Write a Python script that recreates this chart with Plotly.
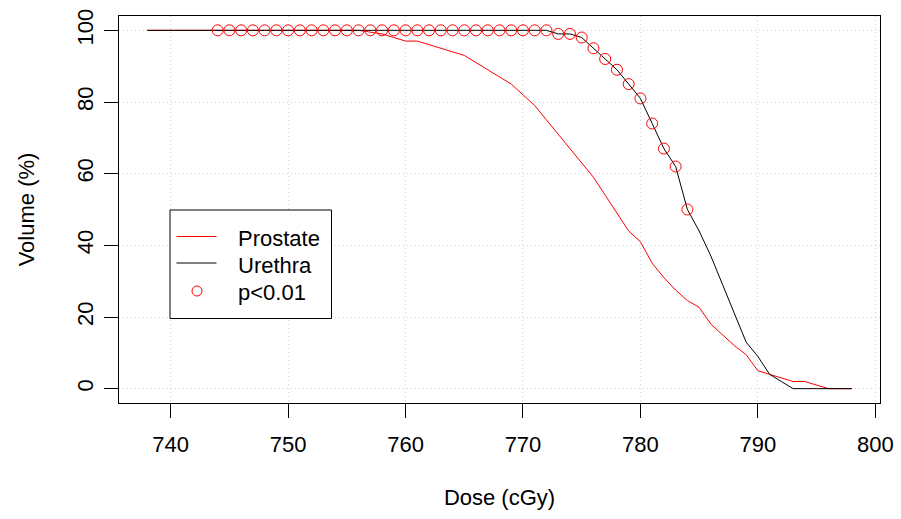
import plotly.graph_objects as go

# ---- data ----
dose = [738, 739, 740, 741, 742, 743, 744, 745, 746, 747, 748, 749, 750, 751, 752, 753,
        754, 755, 756, 757, 758, 759, 760, 761, 762, 763, 764, 765, 766, 767, 768, 769,
        770, 771, 772, 773, 774, 775, 776, 777, 778, 779, 780, 781, 782, 783, 784, 785,
        786, 787, 788, 789, 790, 791, 792, 793, 794, 795, 796, 797, 798]

prostate = [100, 100, 100, 100, 100, 100, 100, 100, 100, 100, 100, 100, 100, 100, 100, 100,
            100, 100, 100, 99.5, 99, 98, 97, 97, 96, 95, 94, 93, 91, 89, 87, 85,
            82, 79, 75, 71, 67, 63, 59, 54, 49, 44, 41, 35, 31, 27.5, 24.6, 22.7,
            18, 15, 12, 9.5, 5, 4, 3, 2, 2, 1, 0, 0, 0]

urethra = [100, 100, 100, 100, 100, 100, 100, 100, 100, 100, 100, 100, 100, 100, 100, 100,
           100, 100, 100, 100, 100, 100, 100, 100, 100, 100, 100, 100, 100, 100, 100, 100,
           100, 100, 100, 99, 99, 98, 95, 92, 89, 85, 81, 74, 67, 62, 50, 44,
           37, 29, 21, 13, 9, 4, 2, 0, 0, 0, 0, 0, 0]

sig_dose = [744, 745, 746, 747, 748, 749, 750, 751, 752, 753, 754, 755, 756, 757, 758, 759,
            760, 761, 762, 763, 764, 765, 766, 767, 768, 769, 770, 771, 772, 773, 774, 775,
            776, 777, 778, 779, 780, 781, 782, 783, 784]
sig_vol = [100, 100, 100, 100, 100, 100, 100, 100, 100, 100, 100, 100, 100, 100, 100, 100,
           100, 100, 100, 100, 100, 100, 100, 100, 100, 100, 100, 100, 100, 99, 99, 98,
           95, 92, 89, 85, 81, 74, 67, 62, 50]

x_ticks = [740, 750, 760, 770, 780, 790, 800]
y_ticks = [0, 20, 40, 60, 80, 100]
legend_labels = ["Prostate", "Urethra", "p<0.01"]

RED = "#FF0000"
FONT = "Liberation Sans, Arial, Helvetica, sans-serif"
FS = 22

fig = go.Figure()
fig.add_trace(go.Scatter(x=dose, y=prostate, mode="lines", name=legend_labels[0],
                         line=dict(color=RED, width=1), showlegend=False))
fig.add_trace(go.Scatter(x=dose, y=urethra, mode="lines", name=legend_labels[1],
                         line=dict(color="black", width=1), showlegend=False))
fig.add_trace(go.Scatter(x=sig_dose, y=sig_vol, mode="markers", name=legend_labels[2],
                         marker=dict(symbol="circle-open", size=11, color=RED,
                                     line=dict(color=RED, width=1)),
                         showlegend=False))

# ---- plot geometry (pixels) ----
W, H = 901, 519
L, R, T, B = 119, 21, 16, 116
PW, PH = W - L - R, H - T - B


def px(xp):
    return (xp - L) / PW


def py(yp):
    return (H - B - yp) / PH


shapes = []
# legend box
shapes.append(dict(type="rect", xref="paper", yref="paper",
                   x0=px(170), x1=px(331.5), y0=py(318.5), y1=py(210),
                   line=dict(color="black", width=1), fillcolor="white", layer="above"))
# legend line samples
shapes.append(dict(type="line", xref="paper", yref="paper",
                   x0=px(176.5), x1=px(216.5), y0=py(236.5), y1=py(236.5),
                   line=dict(color=RED, width=1), layer="above"))
shapes.append(dict(type="line", xref="paper", yref="paper",
                   x0=px(176.5), x1=px(216.5), y0=py(263), y1=py(263),
                   line=dict(color="black", width=1), layer="above"))
# legend circle sample
shapes.append(dict(type="circle", xref="paper", yref="paper",
                   xsizemode="pixel", ysizemode="pixel",
                   xanchor=px(197), yanchor=py(291),
                   x0=-5, x1=5, y0=-5, y1=5,
                   line=dict(color=RED, width=1), layer="above"))

annotations = []
for lab, yy in zip(legend_labels, [238, 265, 292]):
    annotations.append(dict(text=lab, xref="paper", yref="paper", x=px(236),
                            y=py(yy), xanchor="left", yanchor="middle",
                            showarrow=False, font=dict(size=FS, color="black", family=FONT)))

fig.update_layout(
    width=W, height=H,
    margin=dict(l=L, r=R, t=T, b=B, pad=0, autoexpand=False),
    paper_bgcolor="white", plot_bgcolor="white",
    font=dict(family=FONT, size=FS, color="black"),
    shapes=shapes, annotations=annotations,
    showlegend=False,
)
fig.update_xaxes(
    range=[735.6, 800.4], tickvals=x_ticks, ticktext=[str(v) for v in x_ticks],
    ticks="outside", ticklen=14, tickwidth=1, tickcolor="black",
    showline=True, linecolor="black", linewidth=1, mirror=True,
    showgrid=True, gridcolor="#D3D3D3", griddash="1px,3px", gridwidth=1,
    zeroline=False, ticklabelstandoff=8, automargin=False,
    title=dict(text="Dose (cGy)", standoff=33, font=dict(size=FS)),
    tickfont=dict(size=FS),
)
fig.update_yaxes(
    range=[-4, 104], tickvals=y_ticks, ticktext=[str(v) for v in y_ticks],
    ticks="outside", ticklen=14, tickwidth=1, tickcolor="black",
    showline=True, linecolor="black", linewidth=1, mirror=True,
    showgrid=True, gridcolor="#D3D3D3", griddash="1px,3px", gridwidth=1,
    zeroline=False, tickangle=-90, ticklabelstandoff=2, automargin=False,
    title=dict(text="Volume (%)", standoff=32, font=dict(size=FS)),
    tickfont=dict(size=FS),
)

fig.write_html(
    "out.html",
    config={"displayModeBar": False},
    post_script="document.body.style.margin='0px';document.body.style.overflow='hidden';",
)
